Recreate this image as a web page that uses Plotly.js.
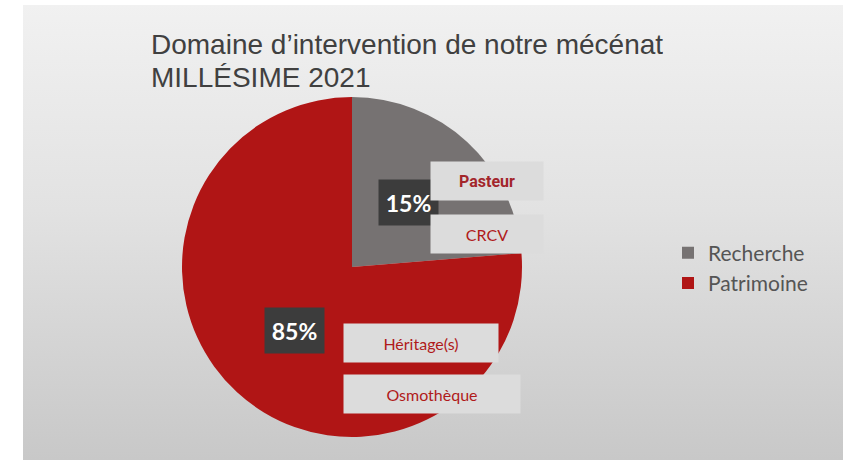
<!DOCTYPE html>
<html>
<head>
<meta charset="utf-8">
<script src="https://cdn.plot.ly/plotly-3.0.1.min.js"></script>
<style>
  html, body { margin: 0; padding: 0; background: #fff; }
  #bg { position: absolute; left: 23px; top: 5px; width: 820px; height: 455px;
        background: linear-gradient(to bottom, #f1f1f1 0%, #e2e2e2 45%, #c8c8c8 100%); }
  #chart { position: absolute; left: 0; top: 0; width: 843px; height: 460px; }
</style>
</head>
<body>
<div id="bg"></div>
<div id="chart"></div>
<script>
// categories and shares as drawn (the slices in the source are not exactly 15/85)
var categories = ['Recherche', 'Patrimoine'];
var shares = [23.7, 76.3];
var pctLabels = ['15%', '85%'];
var colors = ['#767272', '#b01515'];
// sub-labels per category
var subRecherche = ['Pasteur', 'CRCV'];
var subPatrimoine = ['Héritage(s)', 'Osmothèque'];
var titleLines = ['Domaine d’intervention de notre mécénat', 'MILLÉSIME 2021'];

var W = 843, H = 460;
function px(x) { return x / W; }
function py(y) { return 1 - y / H; }

var trace = {
  type: 'pie',
  labels: categories,
  values: shares,
  sort: false,
  direction: 'clockwise',
  rotation: 0,
  marker: { colors: colors, line: { width: 0 } },
  textinfo: 'none',
  hoverinfo: 'none',
  domain: { x: [px(182), px(522)], y: [py(437), py(97)] }
};

var pctBox = [[408.5, 202.5], [294.5, 330.5]];
var subPos = [
  [[487, 181], [487, 234]],
  [[421, 343], [432, 394]]
];
var subW = [[112, 112], [154, 176]];
var subs = [subRecherche, subPatrimoine];

var annotations = [];
titleLines.forEach(function (t, i) {
  annotations.push({
    text: t, xref: 'paper', yref: 'paper', x: px(149), y: py(45 + i * 32),
    xanchor: 'left', yanchor: 'middle', showarrow: false, height: 31,
    font: { family: 'Liberation Sans, Arial, sans-serif', size: 28, color: '#404040' }
  });
});
pctLabels.forEach(function (t, i) {
  annotations.push({
    text: '<b>' + t + '</b>', xref: 'paper', yref: 'paper',
    x: px(pctBox[i][0]), y: py(pctBox[i][1]), xanchor: 'center', yanchor: 'middle',
    showarrow: false,
    font: { family: 'Lato, sans-serif', size: 23, color: '#ffffff' },
    bgcolor: '#3c3c3c', width: 59, height: 45, borderpad: 0
  });
});
subs.forEach(function (list, i) {
  list.forEach(function (t, j) {
    var bold = (i === 0 && j === 0);
    annotations.push({
      text: bold ? '<b>' + t + '</b>' : t, xref: 'paper', yref: 'paper',
      x: px(subPos[i][j][0]), y: py(subPos[i][j][1]), xanchor: 'center', yanchor: 'middle',
      showarrow: false,
      font: { family: bold ? 'Roboto, sans-serif' : 'Lato, sans-serif', size: 16, color: bold ? '#a3262b' : '#b01a1a' },
      bgcolor: '#dcdcdc', width: subW[i][j], height: 38, borderpad: 0
    });
  });
});

var layout = {
  width: W, height: H,
  paper_bgcolor: 'rgba(0,0,0,0)',
  plot_bgcolor: 'rgba(0,0,0,0)',
  margin: { t: 0, b: 0, l: 0, r: 0 },
  showlegend: true,
  legend: {
    x: px(668), y: py(268), xanchor: 'left', yanchor: 'middle',
    font: { family: 'Lato, sans-serif', size: 21, color: '#555555' },
    bgcolor: 'rgba(0,0,0,0)', tracegroupgap: 0
  },
  annotations: annotations
};

Plotly.newPlot('chart', [trace], layout, { displayModeBar: false, staticPlot: true });
</script>
</body>
</html>
